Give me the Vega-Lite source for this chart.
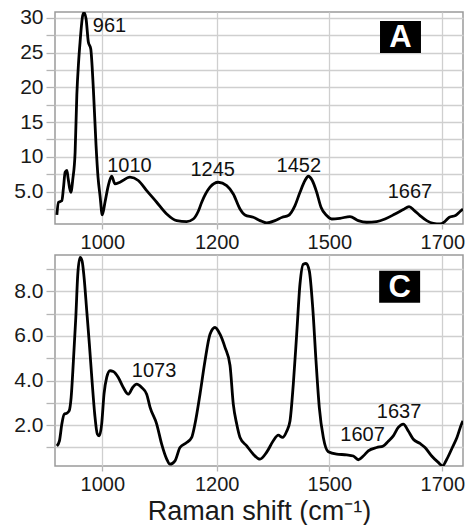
{
  "$schema": "https://vega.github.io/schema/vega-lite/v6.json",
  "padding": {"left": 13, "top": 6, "right": 0, "bottom": 0},
  "spacing": 0,
  "config": {
    "font": "Liberation Sans",
    "view": {"stroke": "#9a9a9a", "strokeWidth": 1.5},
    "axis": {
      "grid": true,
      "labelFont": "Liberation Sans",
      "labelFontSize": 21,
      "labelColor": "#1a1a1a",
      "gridColor": "#cfcfcf",
      "gridWidth": 1.3,
      "tickColor": "#b5b5b5",
      "tickWidth": 1.3,
      "domain": false,
      "titleFont": "Liberation Sans",
      "titleFontSize": 27,
      "titleFontWeight": "normal",
      "titleColor": "#1a1a1a"
    }
  },
  "datasets": {
    "spectrumA": [
      {"shift": 920.3, "intensity": 1.66}, {"shift": 923.1, "intensity": 3.46}, {"shift": 929.0, "intensity": 3.67},
      {"shift": 931.8, "intensity": 5.48}, {"shift": 934.8, "intensity": 7.78}, {"shift": 937.8, "intensity": 8.03},
      {"shift": 940.0, "intensity": 6.92}, {"shift": 942.7, "intensity": 5.48}, {"shift": 944.8, "intensity": 4.9},
      {"shift": 948.3, "intensity": 6.82}, {"shift": 952.3, "intensity": 10.66}, {"shift": 955.3, "intensity": 18.88},
      {"shift": 958.4, "intensity": 23.63}, {"shift": 961.0, "intensity": 26.51}, {"shift": 965.7, "intensity": 30.36},
      {"shift": 968.0, "intensity": 30.74}, {"shift": 971.5, "intensity": 29.87}, {"shift": 975.5, "intensity": 26.51},
      {"shift": 979.7, "intensity": 25.55}, {"shift": 984.3, "intensity": 19.78}, {"shift": 989.0, "intensity": 11.67},
      {"shift": 992.5, "intensity": 7.06}, {"shift": 996.0, "intensity": 4.42}, {"shift": 1000.0, "intensity": 1.63},
      {"shift": 1004.7, "intensity": 3.46}, {"shift": 1010.5, "intensity": 5.86}, {"shift": 1016.4, "intensity": 7.2},
      {"shift": 1022.2, "intensity": 6.1}, {"shift": 1030.9, "intensity": 6.34}, {"shift": 1048.4, "intensity": 7.06},
      {"shift": 1062.9, "intensity": 6.59}, {"shift": 1077.6, "intensity": 5.14}, {"shift": 1095.1, "intensity": 3.46},
      {"shift": 1112.6, "intensity": 1.77}, {"shift": 1130.1, "intensity": 0.82}, {"shift": 1147.5, "intensity": 0.68},
      {"shift": 1159.1, "intensity": 1.05}, {"shift": 1167.8, "intensity": 2.16}, {"shift": 1173.8, "intensity": 3.46},
      {"shift": 1188.3, "intensity": 5.62}, {"shift": 1204.3, "intensity": 6.34}, {"shift": 1226.6, "intensity": 5.86},
      {"shift": 1244.2, "intensity": 4.65}, {"shift": 1262.1, "intensity": 2.49}, {"shift": 1275.4, "intensity": 1.63},
      {"shift": 1297.5, "intensity": 1.3}, {"shift": 1315.4, "intensity": 0.82}, {"shift": 1333.2, "intensity": 0.48},
      {"shift": 1355.3, "intensity": 0.82}, {"shift": 1374.8, "intensity": 1.3}, {"shift": 1390.7, "intensity": 1.54},
      {"shift": 1408.6, "intensity": 2.98}, {"shift": 1421.9, "intensity": 4.9}, {"shift": 1435.2, "intensity": 6.59},
      {"shift": 1444.0, "intensity": 7.2}, {"shift": 1454.7, "intensity": 6.59}, {"shift": 1466.4, "intensity": 4.9},
      {"shift": 1477.9, "intensity": 2.74}, {"shift": 1493.1, "intensity": 1.54}, {"shift": 1504.2, "intensity": 1.05},
      {"shift": 1518.9, "intensity": 1.15}, {"shift": 1536.6, "intensity": 1.4}, {"shift": 1551.3, "intensity": 0.82},
      {"shift": 1566.2, "intensity": 0.58}, {"shift": 1583.9, "intensity": 0.68}, {"shift": 1598.6, "intensity": 1.05},
      {"shift": 1616.3, "intensity": 1.77}, {"shift": 1631.0, "intensity": 2.41}, {"shift": 1641.1, "intensity": 2.84},
      {"shift": 1650.5, "intensity": 2.26}, {"shift": 1660.5, "intensity": 1.54}, {"shift": 1672.4, "intensity": 0.82},
      {"shift": 1684.1, "intensity": 0.43}, {"shift": 1695.9, "intensity": 0.33}, {"shift": 1704.8, "intensity": 0.68},
      {"shift": 1713.6, "intensity": 1.3}, {"shift": 1725.5, "intensity": 1.54}, {"shift": 1734.3, "intensity": 2.12},
      {"shift": 1740.0, "intensity": 2.49}
    ],
    "spectrumC": [
      {"shift": 920.3, "intensity": 1.07}, {"shift": 924.8, "intensity": 1.3}, {"shift": 929.0, "intensity": 2.05},
      {"shift": 933.1, "intensity": 2.49}, {"shift": 937.8, "intensity": 2.54}, {"shift": 941.8, "intensity": 2.64},
      {"shift": 945.3, "intensity": 3.24}, {"shift": 949.3, "intensity": 4.88}, {"shift": 953.5, "intensity": 6.83},
      {"shift": 957.0, "intensity": 8.77}, {"shift": 961.0, "intensity": 9.52}, {"shift": 964.5, "intensity": 9.37},
      {"shift": 968.0, "intensity": 8.63}, {"shift": 972.7, "intensity": 7.13}, {"shift": 977.3, "intensity": 5.63},
      {"shift": 982.0, "intensity": 3.99}, {"shift": 986.7, "intensity": 2.49}, {"shift": 991.3, "intensity": 1.6},
      {"shift": 994.8, "intensity": 1.52}, {"shift": 998.9, "intensity": 2.05}, {"shift": 1003.0, "intensity": 3.39},
      {"shift": 1007.7, "intensity": 4.14}, {"shift": 1013.5, "intensity": 4.44}, {"shift": 1019.2, "intensity": 4.41},
      {"shift": 1028.0, "intensity": 4.14}, {"shift": 1036.7, "intensity": 3.69}, {"shift": 1045.4, "intensity": 3.39},
      {"shift": 1053.1, "intensity": 3.69}, {"shift": 1060.1, "intensity": 3.84}, {"shift": 1068.9, "intensity": 3.69},
      {"shift": 1077.6, "intensity": 3.39}, {"shift": 1083.4, "intensity": 2.81}, {"shift": 1095.1, "intensity": 2.05},
      {"shift": 1103.8, "intensity": 1.15}, {"shift": 1112.6, "intensity": 0.48}, {"shift": 1118.3, "intensity": 0.25},
      {"shift": 1127.1, "intensity": 0.4}, {"shift": 1135.8, "intensity": 1.0}, {"shift": 1147.5, "intensity": 1.22},
      {"shift": 1156.3, "intensity": 1.45}, {"shift": 1162.0, "intensity": 2.05}, {"shift": 1170.8, "intensity": 3.39},
      {"shift": 1179.5, "intensity": 4.88}, {"shift": 1188.3, "intensity": 6.08}, {"shift": 1197.0, "intensity": 6.38},
      {"shift": 1208.8, "intensity": 6.08}, {"shift": 1222.1, "intensity": 5.49}, {"shift": 1235.4, "intensity": 4.69},
      {"shift": 1244.2, "intensity": 2.94}, {"shift": 1253.3, "intensity": 2.05}, {"shift": 1262.1, "intensity": 1.45},
      {"shift": 1280.0, "intensity": 1.07}, {"shift": 1297.5, "intensity": 0.7}, {"shift": 1315.4, "intensity": 0.48},
      {"shift": 1333.2, "intensity": 0.79}, {"shift": 1350.8, "intensity": 1.3}, {"shift": 1364.1, "intensity": 1.55},
      {"shift": 1375.3, "intensity": 1.45}, {"shift": 1386.5, "intensity": 1.73}, {"shift": 1395.3, "intensity": 2.19},
      {"shift": 1404.1, "intensity": 3.84}, {"shift": 1413.1, "intensity": 6.08}, {"shift": 1421.9, "intensity": 8.33},
      {"shift": 1430.7, "intensity": 9.22}, {"shift": 1437.9, "intensity": 9.25}, {"shift": 1446.7, "intensity": 8.92},
      {"shift": 1455.8, "intensity": 7.28}, {"shift": 1464.6, "intensity": 4.88}, {"shift": 1473.4, "intensity": 2.79},
      {"shift": 1484.1, "intensity": 1.45}, {"shift": 1497.3, "intensity": 0.81}, {"shift": 1513.1, "intensity": 0.7},
      {"shift": 1530.8, "intensity": 0.67}, {"shift": 1542.5, "intensity": 0.62}, {"shift": 1551.3, "intensity": 0.45},
      {"shift": 1560.2, "intensity": 0.62}, {"shift": 1569.0, "intensity": 0.85}, {"shift": 1583.9, "intensity": 1.0},
      {"shift": 1595.6, "intensity": 1.07}, {"shift": 1604.4, "intensity": 1.28}, {"shift": 1613.3, "intensity": 1.52},
      {"shift": 1622.1, "intensity": 1.9}, {"shift": 1631.0, "intensity": 2.05}, {"shift": 1639.8, "intensity": 1.74},
      {"shift": 1648.7, "intensity": 1.37}, {"shift": 1660.5, "intensity": 1.18}, {"shift": 1669.4, "intensity": 1.0},
      {"shift": 1681.2, "intensity": 0.62}, {"shift": 1692.9, "intensity": 0.33}, {"shift": 1700.7, "intensity": 0.18},
      {"shift": 1708.8, "intensity": 0.48}, {"shift": 1719.4, "intensity": 1.0}, {"shift": 1728.3, "intensity": 1.45},
      {"shift": 1737.2, "intensity": 2.05}, {"shift": 1740.0, "intensity": 2.19}
    ],
    "peaksA": [
      {"shift": 1012.6, "intensity": 28.8, "label": "961"},
      {"shift": 1047.5, "intensity": 8.72, "label": "1010"},
      {"shift": 1193.0, "intensity": 8.14, "label": "1245"},
      {"shift": 1418.7, "intensity": 8.65, "label": "1452"},
      {"shift": 1642.8, "intensity": 4.9, "label": "1667"}
    ],
    "peaksC": [
      {"shift": 1090.4, "intensity": 4.42, "label": "1073"},
      {"shift": 1558.8, "intensity": 1.55, "label": "1607"},
      {"shift": 1623.4, "intensity": 2.61, "label": "1637"}
    ],
    "panelA": [{"shift": 1626, "intensity": 27.24, "label": "A"}],
    "panelC": [{"shift": 1624.5, "intensity": 8.21, "label": "C"}]
  },
  "vconcat": [
    {
      "width": 408,
      "height": 212,
      "encoding": {
        "x": {
          "field": "shift", "type": "quantitative",
          "scale": {"domain": [917, 1000, 1200, 1500, 1700, 1740], "range": [0, 47.3, 161.7, 274.3, 387.3, 408], "nice": false, "zero": false},
          "axis": {"values": [1000, 1200, 1500, 1700], "format": "d", "title": null, "grid": true, "tickSize": 5, "labelPadding": 3, "labelFontSize": 20, "minExtent": 29, "maxExtent": 29, "labelFlush": false, "labelOverlap": false}
        },
        "y": {
          "field": "intensity", "type": "quantitative",
          "scale": {"domain": [0.33, 30.83], "nice": false, "zero": false},
          "axis": {"values": [2.5, 5, 7.5, 10, 12.5, 15, 17.5, 20, 22.5, 25, 27.5, 30], "title": null, "grid": true, "tickSize": 9, "labelPadding": 3, "labelOverlap": false, "labelExpr": "datum.value % 5 == 0 ? (datum.value == 5 ? '5.0' : format(datum.value, 'd')) : ''"}
        }
      },
      "layer": [
        {
          "data": {"name": "spectrumA"},
          "mark": {"type": "line", "color": "black", "strokeWidth": 2.8, "interpolate": "monotone", "clip": true}
        },
        {
          "data": {"name": "peaksA"},
          "mark": {"type": "text", "fontSize": 20, "color": "#111111", "align": "center", "baseline": "middle"},
          "encoding": {"text": {"field": "label"}}
        },
        {
          "data": {"name": "panelA"},
          "mark": {"type": "point", "shape": "M-1.28,-1L1.28,-1L1.28,1L-1.28,1Z", "size": 1024, "filled": true, "color": "black", "opacity": 1}
        },
        {
          "data": {"name": "panelA"},
          "mark": {"type": "text", "fontSize": 31, "fontWeight": "bold", "color": "white", "align": "center", "baseline": "middle", "dy": 1},
          "encoding": {"text": {"field": "label"}}
        }
      ]
    },
    {
      "width": 408,
      "height": 211,
      "encoding": {
        "x": {
          "field": "shift", "type": "quantitative",
          "scale": {"domain": [917, 1000, 1200, 1500, 1700, 1740], "range": [0, 47.3, 161.7, 274.3, 387.3, 408], "nice": false, "zero": false},
          "axis": {"values": [1000, 1200, 1500, 1700], "format": "d", "title": "Raman shift (cm⁻¹)", "grid": true, "titlePadding": 4, "tickSize": 5, "labelPadding": 3, "labelFontSize": 20, "labelFlush": false, "labelOverlap": false}
        },
        "y": {
          "field": "intensity", "type": "quantitative",
          "scale": {"domain": [0.17, 9.63], "nice": false, "zero": false},
          "axis": {"values": [1, 2, 3, 4, 5, 6, 7, 8, 9], "title": null, "grid": true, "tickSize": 9, "labelPadding": 3, "labelOverlap": false, "labelExpr": "datum.value % 2 == 0 ? format(datum.value, '.1f') : ''"}
        }
      },
      "layer": [
        {
          "data": {"name": "spectrumC"},
          "mark": {"type": "line", "color": "black", "strokeWidth": 2.8, "interpolate": "monotone", "clip": true}
        },
        {
          "data": {"name": "peaksC"},
          "mark": {"type": "text", "fontSize": 20, "color": "#111111", "align": "center", "baseline": "middle"},
          "encoding": {"text": {"field": "label"}}
        },
        {
          "data": {"name": "panelC"},
          "mark": {"type": "point", "shape": "M-1.28,-1L1.28,-1L1.28,1L-1.28,1Z", "size": 1024, "filled": true, "color": "black", "opacity": 1}
        },
        {
          "data": {"name": "panelC"},
          "mark": {"type": "text", "fontSize": 31, "fontWeight": "bold", "color": "white", "align": "center", "baseline": "middle", "dy": 1},
          "encoding": {"text": {"field": "label"}}
        }
      ]
    }
  ]
}
